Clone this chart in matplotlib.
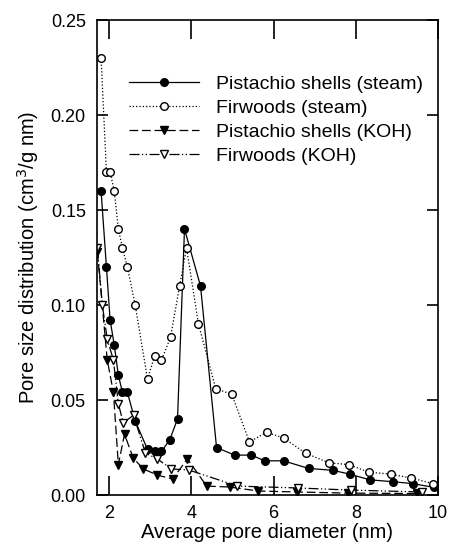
import matplotlib
matplotlib.use("Agg")
import matplotlib.pyplot as plt

plt.rcParams['font.family'] = ['Liberation Sans', 'DejaVu Sans']

# Pistachio shells (steam)
ps_x = [1.80, 1.93, 2.02, 2.12, 2.22, 2.32, 2.44, 2.63, 2.93, 3.12, 3.27, 3.47, 3.66,
        3.83, 4.22, 4.61, 5.05, 5.46, 5.78, 6.24, 6.85, 7.44, 7.85, 8.34, 8.90, 9.39, 9.90]
ps_y = [0.160, 0.120, 0.092, 0.079, 0.063, 0.054, 0.054, 0.039, 0.024, 0.023, 0.023, 0.029, 0.040,
        0.140, 0.110, 0.025, 0.021, 0.021, 0.018, 0.018, 0.014, 0.013, 0.011, 0.008, 0.007, 0.006, 0.004]

# Firwoods (steam)
fs_x = [1.80, 1.93, 2.02, 2.12, 2.22, 2.32, 2.44, 2.63, 2.93, 3.10, 3.27, 3.49, 3.71,
        3.88, 4.17, 4.59, 4.98, 5.41, 5.83, 6.24, 6.78, 7.34, 7.83, 8.32, 8.85, 9.34, 9.88]
fs_y = [0.230, 0.170, 0.170, 0.160, 0.140, 0.130, 0.120, 0.100, 0.061, 0.073, 0.071, 0.083, 0.110,
        0.130, 0.090, 0.056, 0.053, 0.028, 0.033, 0.030, 0.022, 0.017, 0.016, 0.012, 0.011, 0.009, 0.006]

# Pistachio shells (KOH)
pk_x = [1.71, 1.95, 2.10, 2.22, 2.37, 2.58, 2.83, 3.17, 3.54, 3.90, 4.37, 4.93, 5.63, 6.56, 7.80, 9.50]
pk_y = [0.128, 0.071, 0.054, 0.016, 0.032, 0.0195, 0.0137, 0.0105, 0.0084, 0.019, 0.0047, 0.0042,
        0.0021, 0.0016, 0.0010, 0.0008]

# Firwoods (KOH)
fk_x = [1.71, 1.83, 1.95, 2.10, 2.22, 2.34, 2.59, 2.88, 3.17, 3.51, 3.93, 5.12, 6.60, 7.88, 9.60]
fk_y = [0.130, 0.100, 0.082, 0.071, 0.048, 0.038, 0.042, 0.022, 0.019, 0.0137, 0.0132, 0.0047,
        0.0037, 0.0026, 0.0016]

labels = ["Pistachio shells (steam)", "Firwoods (steam)", "Pistachio shells (KOH)", "Firwoods (KOH)"]
xticks = [2, 4, 6, 8, 10]
yticks = [0.00, 0.05, 0.10, 0.15, 0.20, 0.25]

fig = plt.figure(figsize=(4.49, 5.51), dpi=100)
ax = fig.add_axes([0.216, 0.1016, 0.7595, 0.8621])

ms = 5.5
ax.plot(ps_x, ps_y, '-', color='black', lw=0.9, marker='o', ms=ms,
        mfc='black', mec='black', label=labels[0])
ax.plot(fs_x, fs_y, ':', color='black', lw=0.9, marker='o', ms=ms,
        mfc='white', mec='black', label=labels[1])
ax.plot(pk_x, pk_y, '--', color='black', lw=0.9, marker='v', ms=ms + 0.5,
        mfc='black', mec='black', label=labels[2], dashes=(7, 3))
ax.plot(fk_x, fk_y, color='black', lw=0.9, marker='v', ms=ms + 0.5,
        mfc='white', mec='black', label=labels[3], dashes=(8, 2, 1, 2, 1, 2))

ax.set_xlim(1.7, 10)
ax.set_ylim(0, 0.25)
ax.set_xticks(xticks)
ax.set_yticks(yticks)
ax.set_yticklabels([f"{v:.2f}" for v in yticks])
ax.tick_params(axis='x', direction='in', length=14, width=1.2, top=True, labelsize=13, pad=7)
ax.tick_params(axis='y', direction='in', length=8, width=1.2, right=True, labelsize=13, pad=8)
for s in ax.spines.values():
    s.set_linewidth(1.2)

ax.set_xlabel("Average pore diameter (nm)", fontsize=14.5, labelpad=1)
ax.set_ylabel("Pore size distribution (cm$^3$/g nm)", fontsize=14.5, labelpad=7)

ax.legend(loc='upper left', bbox_to_anchor=(0.07, 0.9), frameon=False, fontsize=14,
          handlelength=3.6, handletextpad=0.9, labelspacing=0.33, borderaxespad=0)

fig.savefig("out.png", dpi=100)
